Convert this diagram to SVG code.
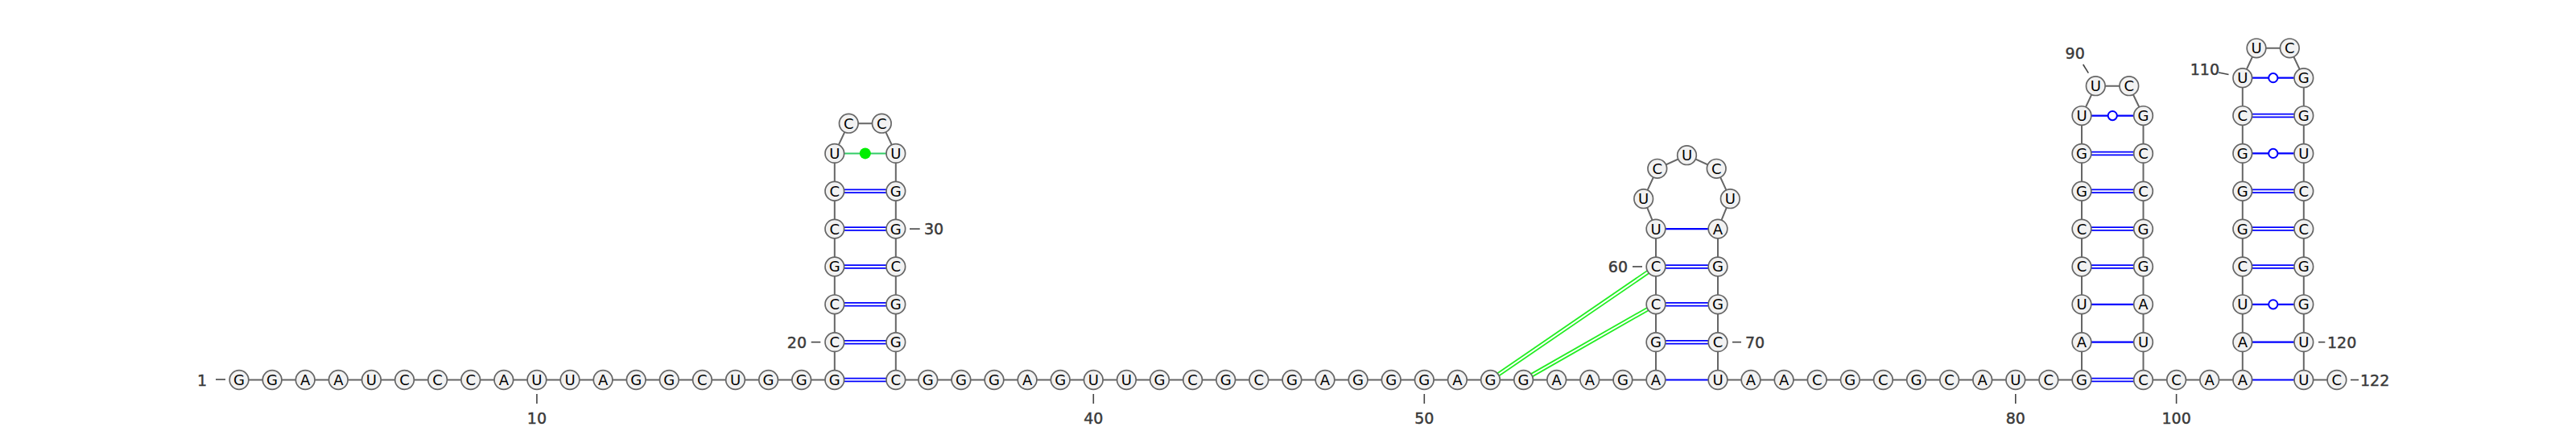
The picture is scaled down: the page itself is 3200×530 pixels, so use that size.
<svg xmlns="http://www.w3.org/2000/svg" width="3200" height="530" viewBox="0 0 3200 530">
<style>
.nt circle{fill:#f2f2f2;stroke:#666;stroke-width:1.7}
.nt text{font-family:'DejaVu Sans',sans-serif;font-size:18px;text-anchor:middle;fill:#000}
.bb{fill:none;stroke:#666;stroke-width:2}
.p1{stroke:#0000ff;stroke-width:2.2}
.p2{stroke:#0000ff;stroke-width:5.5}
.pw{stroke:#fff;stroke-width:2}
.g2{stroke:#22ee22;stroke-width:5.5}
.wb{fill:#fff;stroke:#0000ff;stroke-width:2}
.lbl{font-family:'DejaVu Sans',sans-serif;font-size:19px;fill:#3a3a3a;stroke:#3a3a3a;stroke-width:0.45}
.tk{stroke:#444;stroke-width:1.6}
</style>
<rect width="3200" height="530" fill="#fff"/>
<g id="connectors">
<polyline class="bb" points="297,471.5 338.1,471.5 379.2,471.5 420.3,471.5 461.4,471.5 502.5,471.5 543.6,471.5 584.7,471.5 625.8,471.5 666.9,471.5 708,471.5 749.1,471.5 790.2,471.5 831.3,471.5 872.4,471.5 913.5,471.5 954.6,471.5 995.7,471.5 1036.8,471.5 1036.8,424.65 1036.8,377.8 1036.8,330.95 1036.8,284.1 1036.8,237.25 1036.8,190.4 1054.3,153.2 1095.3,153.2 1112.8,190.4 1112.8,237.25 1112.8,284.1 1112.8,330.95 1112.8,377.8 1112.8,424.65 1112.8,471.5 1152.8,471.5 1193.9,471.5 1235,471.5 1276.1,471.5 1317.2,471.5 1358.3,471.5 1399.4,471.5 1440.5,471.5 1481.6,471.5 1522.7,471.5 1563.8,471.5 1604.9,471.5 1646,471.5 1687.1,471.5 1728.2,471.5 1769.3,471.5 1810.4,471.5 1851.5,471.5 1892.6,471.5 1933.7,471.5 1974.8,471.5 2015.9,471.5 2057,471.5 2057,424.65 2057,377.8 2057,330.95 2057,284.1 2041.7,246.7 2058.8,209.3 2095.5,192.7 2132.2,209.3 2149.3,246.7 2134,284.1 2134,330.95 2134,377.8 2134,424.65 2134,471.5 2175,471.5 2216.1,471.5 2257.2,471.5 2298.3,471.5 2339.4,471.5 2380.5,471.5 2421.6,471.5 2462.7,471.5 2503.8,471.5 2544.9,471.5 2586,471.5 2586,424.65 2586,377.8 2586,330.95 2586,284.1 2586,237.25 2586,190.4 2586,143.55 2603.3,106.7 2644.8,106.7 2662.5,143.55 2662.5,190.4 2662.5,237.25 2662.5,284.1 2662.5,330.95 2662.5,377.8 2662.5,424.65 2662.5,471.5 2703.6,471.5 2744.7,471.5 2785.8,471.5 2785.8,424.65 2785.8,377.8 2785.8,330.95 2785.8,284.1 2785.8,237.25 2785.8,190.4 2785.8,143.55 2785.8,96.7 2803,59.8 2844.3,59.8 2861.8,96.7 2861.8,143.55 2861.8,190.4 2861.8,237.25 2861.8,284.1 2861.8,330.95 2861.8,377.8 2861.8,424.65 2861.8,471.5 2902.9,471.5"/>
<!-- hairpin 1 pairs -->
<g class="p2"><line x1="1036.8" y1="471.5" x2="1112.8" y2="471.5"/><line x1="1036.8" y1="424.65" x2="1112.8" y2="424.65"/><line x1="1036.8" y1="377.8" x2="1112.8" y2="377.8"/><line x1="1036.8" y1="330.95" x2="1112.8" y2="330.95"/><line x1="1036.8" y1="284.1" x2="1112.8" y2="284.1"/><line x1="1036.8" y1="237.25" x2="1112.8" y2="237.25"/></g>
<g class="pw"><line x1="1036.8" y1="471.5" x2="1112.8" y2="471.5"/><line x1="1036.8" y1="424.65" x2="1112.8" y2="424.65"/><line x1="1036.8" y1="377.8" x2="1112.8" y2="377.8"/><line x1="1036.8" y1="330.95" x2="1112.8" y2="330.95"/><line x1="1036.8" y1="284.1" x2="1112.8" y2="284.1"/><line x1="1036.8" y1="237.25" x2="1112.8" y2="237.25"/></g>
<line x1="1036.8" y1="190.4" x2="1112.8" y2="190.4" stroke="#33cc66" stroke-width="2"/>
<circle cx="1074.8" cy="190.4" r="7" fill="#00ee00"/>
<!-- pseudoknot green -->
<g class="g2"><line x1="1851.5" y1="471.5" x2="2057" y2="330.95"/><line x1="1892.6" y1="471.5" x2="2057" y2="377.8"/></g>
<g class="pw"><line x1="1851.5" y1="471.5" x2="2057" y2="330.95"/><line x1="1892.6" y1="471.5" x2="2057" y2="377.8"/></g>
<!-- hairpin 2 pairs -->
<g class="p1"><line x1="2057" y1="471.5" x2="2134" y2="471.5"/><line x1="2057" y1="284.1" x2="2134" y2="284.1"/></g>
<g class="p2"><line x1="2057" y1="424.65" x2="2134" y2="424.65"/><line x1="2057" y1="377.8" x2="2134" y2="377.8"/><line x1="2057" y1="330.95" x2="2134" y2="330.95"/></g>
<g class="pw"><line x1="2057" y1="424.65" x2="2134" y2="424.65"/><line x1="2057" y1="377.8" x2="2134" y2="377.8"/><line x1="2057" y1="330.95" x2="2134" y2="330.95"/></g>
<!-- hairpin 3 pairs -->
<g class="p1"><line x1="2586" y1="424.65" x2="2662.5" y2="424.65"/><line x1="2586" y1="377.8" x2="2662.5" y2="377.8"/><line x1="2586" y1="143.55" x2="2662.5" y2="143.55"/></g>
<g class="p2"><line x1="2586" y1="471.5" x2="2662.5" y2="471.5"/><line x1="2586" y1="330.95" x2="2662.5" y2="330.95"/><line x1="2586" y1="284.1" x2="2662.5" y2="284.1"/><line x1="2586" y1="237.25" x2="2662.5" y2="237.25"/><line x1="2586" y1="190.4" x2="2662.5" y2="190.4"/></g>
<g class="pw"><line x1="2586" y1="471.5" x2="2662.5" y2="471.5"/><line x1="2586" y1="330.95" x2="2662.5" y2="330.95"/><line x1="2586" y1="284.1" x2="2662.5" y2="284.1"/><line x1="2586" y1="237.25" x2="2662.5" y2="237.25"/><line x1="2586" y1="190.4" x2="2662.5" y2="190.4"/></g>
<circle class="wb" cx="2624.25" cy="143.55" r="5.6"/>
<!-- hairpin 4 pairs -->
<g class="p1"><line x1="2785.8" y1="471.5" x2="2861.8" y2="471.5"/><line x1="2785.8" y1="424.65" x2="2861.8" y2="424.65"/><line x1="2785.8" y1="377.8" x2="2861.8" y2="377.8"/><line x1="2785.8" y1="190.4" x2="2861.8" y2="190.4"/><line x1="2785.8" y1="96.7" x2="2861.8" y2="96.7"/></g>
<g class="p2"><line x1="2785.8" y1="330.95" x2="2861.8" y2="330.95"/><line x1="2785.8" y1="284.1" x2="2861.8" y2="284.1"/><line x1="2785.8" y1="237.25" x2="2861.8" y2="237.25"/><line x1="2785.8" y1="143.55" x2="2861.8" y2="143.55"/></g>
<g class="pw"><line x1="2785.8" y1="330.95" x2="2861.8" y2="330.95"/><line x1="2785.8" y1="284.1" x2="2861.8" y2="284.1"/><line x1="2785.8" y1="237.25" x2="2861.8" y2="237.25"/><line x1="2785.8" y1="143.55" x2="2861.8" y2="143.55"/></g>
<circle class="wb" cx="2823.8" cy="377.8" r="5.6"/>
<circle class="wb" cx="2823.8" cy="190.4" r="5.6"/>
<circle class="wb" cx="2823.8" cy="96.7" r="5.6"/>
</g>
<g id="nodes">
<g id="n1" class="nt"><circle cx="297" cy="471.5" r="11.8"/><text x="297" y="478">G</text></g>
<g id="n2" class="nt"><circle cx="338.1" cy="471.5" r="11.8"/><text x="338.1" y="478">G</text></g>
<g id="n3" class="nt"><circle cx="379.2" cy="471.5" r="11.8"/><text x="379.2" y="478">A</text></g>
<g id="n4" class="nt"><circle cx="420.3" cy="471.5" r="11.8"/><text x="420.3" y="478">A</text></g>
<g id="n5" class="nt"><circle cx="461.4" cy="471.5" r="11.8"/><text x="461.4" y="478">U</text></g>
<g id="n6" class="nt"><circle cx="502.5" cy="471.5" r="11.8"/><text x="502.5" y="478">C</text></g>
<g id="n7" class="nt"><circle cx="543.6" cy="471.5" r="11.8"/><text x="543.6" y="478">C</text></g>
<g id="n8" class="nt"><circle cx="584.7" cy="471.5" r="11.8"/><text x="584.7" y="478">C</text></g>
<g id="n9" class="nt"><circle cx="625.8" cy="471.5" r="11.8"/><text x="625.8" y="478">A</text></g>
<g id="n10" class="nt"><circle cx="666.9" cy="471.5" r="11.8"/><text x="666.9" y="478">U</text></g>
<g id="n11" class="nt"><circle cx="708" cy="471.5" r="11.8"/><text x="708" y="478">U</text></g>
<g id="n12" class="nt"><circle cx="749.1" cy="471.5" r="11.8"/><text x="749.1" y="478">A</text></g>
<g id="n13" class="nt"><circle cx="790.2" cy="471.5" r="11.8"/><text x="790.2" y="478">G</text></g>
<g id="n14" class="nt"><circle cx="831.3" cy="471.5" r="11.8"/><text x="831.3" y="478">G</text></g>
<g id="n15" class="nt"><circle cx="872.4" cy="471.5" r="11.8"/><text x="872.4" y="478">C</text></g>
<g id="n16" class="nt"><circle cx="913.5" cy="471.5" r="11.8"/><text x="913.5" y="478">U</text></g>
<g id="n17" class="nt"><circle cx="954.6" cy="471.5" r="11.8"/><text x="954.6" y="478">G</text></g>
<g id="n18" class="nt"><circle cx="995.7" cy="471.5" r="11.8"/><text x="995.7" y="478">G</text></g>
<g id="n19" class="nt"><circle cx="1036.8" cy="471.5" r="11.8"/><text x="1036.8" y="478">G</text></g>
<g id="n20" class="nt"><circle cx="1036.8" cy="424.65" r="11.8"/><text x="1036.8" y="431.15">C</text></g>
<g id="n21" class="nt"><circle cx="1036.8" cy="377.8" r="11.8"/><text x="1036.8" y="384.3">C</text></g>
<g id="n22" class="nt"><circle cx="1036.8" cy="330.95" r="11.8"/><text x="1036.8" y="337.45">G</text></g>
<g id="n23" class="nt"><circle cx="1036.8" cy="284.1" r="11.8"/><text x="1036.8" y="290.6">C</text></g>
<g id="n24" class="nt"><circle cx="1036.8" cy="237.25" r="11.8"/><text x="1036.8" y="243.75">C</text></g>
<g id="n25" class="nt"><circle cx="1036.8" cy="190.4" r="11.8"/><text x="1036.8" y="196.9">U</text></g>
<g id="n26" class="nt"><circle cx="1054.3" cy="153.2" r="11.8"/><text x="1054.3" y="159.7">C</text></g>
<g id="n27" class="nt"><circle cx="1095.3" cy="153.2" r="11.8"/><text x="1095.3" y="159.7">C</text></g>
<g id="n28" class="nt"><circle cx="1112.8" cy="190.4" r="11.8"/><text x="1112.8" y="196.9">U</text></g>
<g id="n29" class="nt"><circle cx="1112.8" cy="237.25" r="11.8"/><text x="1112.8" y="243.75">G</text></g>
<g id="n30" class="nt"><circle cx="1112.8" cy="284.1" r="11.8"/><text x="1112.8" y="290.6">G</text></g>
<g id="n31" class="nt"><circle cx="1112.8" cy="330.95" r="11.8"/><text x="1112.8" y="337.45">C</text></g>
<g id="n32" class="nt"><circle cx="1112.8" cy="377.8" r="11.8"/><text x="1112.8" y="384.3">G</text></g>
<g id="n33" class="nt"><circle cx="1112.8" cy="424.65" r="11.8"/><text x="1112.8" y="431.15">G</text></g>
<g id="n34" class="nt"><circle cx="1112.8" cy="471.5" r="11.8"/><text x="1112.8" y="478">C</text></g>
<g id="n35" class="nt"><circle cx="1152.8" cy="471.5" r="11.8"/><text x="1152.8" y="478">G</text></g>
<g id="n36" class="nt"><circle cx="1193.9" cy="471.5" r="11.8"/><text x="1193.9" y="478">G</text></g>
<g id="n37" class="nt"><circle cx="1235" cy="471.5" r="11.8"/><text x="1235" y="478">G</text></g>
<g id="n38" class="nt"><circle cx="1276.1" cy="471.5" r="11.8"/><text x="1276.1" y="478">A</text></g>
<g id="n39" class="nt"><circle cx="1317.2" cy="471.5" r="11.8"/><text x="1317.2" y="478">G</text></g>
<g id="n40" class="nt"><circle cx="1358.3" cy="471.5" r="11.8"/><text x="1358.3" y="478">U</text></g>
<g id="n41" class="nt"><circle cx="1399.4" cy="471.5" r="11.8"/><text x="1399.4" y="478">U</text></g>
<g id="n42" class="nt"><circle cx="1440.5" cy="471.5" r="11.8"/><text x="1440.5" y="478">G</text></g>
<g id="n43" class="nt"><circle cx="1481.6" cy="471.5" r="11.8"/><text x="1481.6" y="478">C</text></g>
<g id="n44" class="nt"><circle cx="1522.7" cy="471.5" r="11.8"/><text x="1522.7" y="478">G</text></g>
<g id="n45" class="nt"><circle cx="1563.8" cy="471.5" r="11.8"/><text x="1563.8" y="478">C</text></g>
<g id="n46" class="nt"><circle cx="1604.9" cy="471.5" r="11.8"/><text x="1604.9" y="478">G</text></g>
<g id="n47" class="nt"><circle cx="1646" cy="471.5" r="11.8"/><text x="1646" y="478">A</text></g>
<g id="n48" class="nt"><circle cx="1687.1" cy="471.5" r="11.8"/><text x="1687.1" y="478">G</text></g>
<g id="n49" class="nt"><circle cx="1728.2" cy="471.5" r="11.8"/><text x="1728.2" y="478">G</text></g>
<g id="n50" class="nt"><circle cx="1769.3" cy="471.5" r="11.8"/><text x="1769.3" y="478">G</text></g>
<g id="n51" class="nt"><circle cx="1810.4" cy="471.5" r="11.8"/><text x="1810.4" y="478">A</text></g>
<g id="n52" class="nt"><circle cx="1851.5" cy="471.5" r="11.8"/><text x="1851.5" y="478">G</text></g>
<g id="n53" class="nt"><circle cx="1892.6" cy="471.5" r="11.8"/><text x="1892.6" y="478">G</text></g>
<g id="n54" class="nt"><circle cx="1933.7" cy="471.5" r="11.8"/><text x="1933.7" y="478">A</text></g>
<g id="n55" class="nt"><circle cx="1974.8" cy="471.5" r="11.8"/><text x="1974.8" y="478">A</text></g>
<g id="n56" class="nt"><circle cx="2015.9" cy="471.5" r="11.8"/><text x="2015.9" y="478">G</text></g>
<g id="n57" class="nt"><circle cx="2057" cy="471.5" r="11.8"/><text x="2057" y="478">A</text></g>
<g id="n58" class="nt"><circle cx="2057" cy="424.65" r="11.8"/><text x="2057" y="431.15">G</text></g>
<g id="n59" class="nt"><circle cx="2057" cy="377.8" r="11.8"/><text x="2057" y="384.3">C</text></g>
<g id="n60" class="nt"><circle cx="2057" cy="330.95" r="11.8"/><text x="2057" y="337.45">C</text></g>
<g id="n61" class="nt"><circle cx="2057" cy="284.1" r="11.8"/><text x="2057" y="290.6">U</text></g>
<g id="n62" class="nt"><circle cx="2041.7" cy="246.7" r="11.8"/><text x="2041.7" y="253.2">U</text></g>
<g id="n63" class="nt"><circle cx="2058.8" cy="209.3" r="11.8"/><text x="2058.8" y="215.8">C</text></g>
<g id="n64" class="nt"><circle cx="2095.5" cy="192.7" r="11.8"/><text x="2095.5" y="199.2">U</text></g>
<g id="n65" class="nt"><circle cx="2132.2" cy="209.3" r="11.8"/><text x="2132.2" y="215.8">C</text></g>
<g id="n66" class="nt"><circle cx="2149.3" cy="246.7" r="11.8"/><text x="2149.3" y="253.2">U</text></g>
<g id="n67" class="nt"><circle cx="2134" cy="284.1" r="11.8"/><text x="2134" y="290.6">A</text></g>
<g id="n68" class="nt"><circle cx="2134" cy="330.95" r="11.8"/><text x="2134" y="337.45">G</text></g>
<g id="n69" class="nt"><circle cx="2134" cy="377.8" r="11.8"/><text x="2134" y="384.3">G</text></g>
<g id="n70" class="nt"><circle cx="2134" cy="424.65" r="11.8"/><text x="2134" y="431.15">C</text></g>
<g id="n71" class="nt"><circle cx="2134" cy="471.5" r="11.8"/><text x="2134" y="478">U</text></g>
<g id="n72" class="nt"><circle cx="2175" cy="471.5" r="11.8"/><text x="2175" y="478">A</text></g>
<g id="n73" class="nt"><circle cx="2216.1" cy="471.5" r="11.8"/><text x="2216.1" y="478">A</text></g>
<g id="n74" class="nt"><circle cx="2257.2" cy="471.5" r="11.8"/><text x="2257.2" y="478">C</text></g>
<g id="n75" class="nt"><circle cx="2298.3" cy="471.5" r="11.8"/><text x="2298.3" y="478">G</text></g>
<g id="n76" class="nt"><circle cx="2339.4" cy="471.5" r="11.8"/><text x="2339.4" y="478">C</text></g>
<g id="n77" class="nt"><circle cx="2380.5" cy="471.5" r="11.8"/><text x="2380.5" y="478">G</text></g>
<g id="n78" class="nt"><circle cx="2421.6" cy="471.5" r="11.8"/><text x="2421.6" y="478">C</text></g>
<g id="n79" class="nt"><circle cx="2462.7" cy="471.5" r="11.8"/><text x="2462.7" y="478">A</text></g>
<g id="n80" class="nt"><circle cx="2503.8" cy="471.5" r="11.8"/><text x="2503.8" y="478">U</text></g>
<g id="n81" class="nt"><circle cx="2544.9" cy="471.5" r="11.8"/><text x="2544.9" y="478">C</text></g>
<g id="n82" class="nt"><circle cx="2586" cy="471.5" r="11.8"/><text x="2586" y="478">G</text></g>
<g id="n83" class="nt"><circle cx="2586" cy="424.65" r="11.8"/><text x="2586" y="431.15">A</text></g>
<g id="n84" class="nt"><circle cx="2586" cy="377.8" r="11.8"/><text x="2586" y="384.3">U</text></g>
<g id="n85" class="nt"><circle cx="2586" cy="330.95" r="11.8"/><text x="2586" y="337.45">C</text></g>
<g id="n86" class="nt"><circle cx="2586" cy="284.1" r="11.8"/><text x="2586" y="290.6">C</text></g>
<g id="n87" class="nt"><circle cx="2586" cy="237.25" r="11.8"/><text x="2586" y="243.75">G</text></g>
<g id="n88" class="nt"><circle cx="2586" cy="190.4" r="11.8"/><text x="2586" y="196.9">G</text></g>
<g id="n89" class="nt"><circle cx="2586" cy="143.55" r="11.8"/><text x="2586" y="150.05">U</text></g>
<g id="n90" class="nt"><circle cx="2603.3" cy="106.7" r="11.8"/><text x="2603.3" y="113.2">U</text></g>
<g id="n91" class="nt"><circle cx="2644.8" cy="106.7" r="11.8"/><text x="2644.8" y="113.2">C</text></g>
<g id="n92" class="nt"><circle cx="2662.5" cy="143.55" r="11.8"/><text x="2662.5" y="150.05">G</text></g>
<g id="n93" class="nt"><circle cx="2662.5" cy="190.4" r="11.8"/><text x="2662.5" y="196.9">C</text></g>
<g id="n94" class="nt"><circle cx="2662.5" cy="237.25" r="11.8"/><text x="2662.5" y="243.75">C</text></g>
<g id="n95" class="nt"><circle cx="2662.5" cy="284.1" r="11.8"/><text x="2662.5" y="290.6">G</text></g>
<g id="n96" class="nt"><circle cx="2662.5" cy="330.95" r="11.8"/><text x="2662.5" y="337.45">G</text></g>
<g id="n97" class="nt"><circle cx="2662.5" cy="377.8" r="11.8"/><text x="2662.5" y="384.3">A</text></g>
<g id="n98" class="nt"><circle cx="2662.5" cy="424.65" r="11.8"/><text x="2662.5" y="431.15">U</text></g>
<g id="n99" class="nt"><circle cx="2662.5" cy="471.5" r="11.8"/><text x="2662.5" y="478">C</text></g>
<g id="n100" class="nt"><circle cx="2703.6" cy="471.5" r="11.8"/><text x="2703.6" y="478">C</text></g>
<g id="n101" class="nt"><circle cx="2744.7" cy="471.5" r="11.8"/><text x="2744.7" y="478">A</text></g>
<g id="n102" class="nt"><circle cx="2785.8" cy="471.5" r="11.8"/><text x="2785.8" y="478">A</text></g>
<g id="n103" class="nt"><circle cx="2785.8" cy="424.65" r="11.8"/><text x="2785.8" y="431.15">A</text></g>
<g id="n104" class="nt"><circle cx="2785.8" cy="377.8" r="11.8"/><text x="2785.8" y="384.3">U</text></g>
<g id="n105" class="nt"><circle cx="2785.8" cy="330.95" r="11.8"/><text x="2785.8" y="337.45">C</text></g>
<g id="n106" class="nt"><circle cx="2785.8" cy="284.1" r="11.8"/><text x="2785.8" y="290.6">G</text></g>
<g id="n107" class="nt"><circle cx="2785.8" cy="237.25" r="11.8"/><text x="2785.8" y="243.75">G</text></g>
<g id="n108" class="nt"><circle cx="2785.8" cy="190.4" r="11.8"/><text x="2785.8" y="196.9">G</text></g>
<g id="n109" class="nt"><circle cx="2785.8" cy="143.55" r="11.8"/><text x="2785.8" y="150.05">C</text></g>
<g id="n110" class="nt"><circle cx="2785.8" cy="96.7" r="11.8"/><text x="2785.8" y="103.2">U</text></g>
<g id="n111" class="nt"><circle cx="2803" cy="59.8" r="11.8"/><text x="2803" y="66.3">U</text></g>
<g id="n112" class="nt"><circle cx="2844.3" cy="59.8" r="11.8"/><text x="2844.3" y="66.3">C</text></g>
<g id="n113" class="nt"><circle cx="2861.8" cy="96.7" r="11.8"/><text x="2861.8" y="103.2">G</text></g>
<g id="n114" class="nt"><circle cx="2861.8" cy="143.55" r="11.8"/><text x="2861.8" y="150.05">G</text></g>
<g id="n115" class="nt"><circle cx="2861.8" cy="190.4" r="11.8"/><text x="2861.8" y="196.9">U</text></g>
<g id="n116" class="nt"><circle cx="2861.8" cy="237.25" r="11.8"/><text x="2861.8" y="243.75">C</text></g>
<g id="n117" class="nt"><circle cx="2861.8" cy="284.1" r="11.8"/><text x="2861.8" y="290.6">C</text></g>
<g id="n118" class="nt"><circle cx="2861.8" cy="330.95" r="11.8"/><text x="2861.8" y="337.45">G</text></g>
<g id="n119" class="nt"><circle cx="2861.8" cy="377.8" r="11.8"/><text x="2861.8" y="384.3">G</text></g>
<g id="n120" class="nt"><circle cx="2861.8" cy="424.65" r="11.8"/><text x="2861.8" y="431.15">U</text></g>
<g id="n121" class="nt"><circle cx="2861.8" cy="471.5" r="11.8"/><text x="2861.8" y="478">U</text></g>
<g id="n122" class="nt"><circle cx="2902.9" cy="471.5" r="11.8"/><text x="2902.9" y="478">C</text></g>
</g>
<g id="labels">
<g class="tk">
<line x1="268" y1="471" x2="280" y2="471"/>
<line x1="666.9" y1="489" x2="666.9" y2="501"/>
<line x1="1007.7" y1="424.65" x2="1019.3" y2="424.65"/>
<line x1="1130" y1="284.1" x2="1142.7" y2="284.1"/>
<line x1="1358.3" y1="489" x2="1358.3" y2="501"/>
<line x1="1769.3" y1="489" x2="1769.3" y2="501"/>
<line x1="2028" y1="330.95" x2="2040" y2="330.95"/>
<line x1="2152" y1="424.65" x2="2163" y2="424.65"/>
<line x1="2503.8" y1="489" x2="2503.8" y2="501"/>
<line x1="2587.7" y1="80" x2="2594.3" y2="90.7"/>
<line x1="2703.6" y1="489" x2="2703.6" y2="501"/>
<line x1="2756" y1="90" x2="2768.5" y2="92.5"/>
<line x1="2880" y1="424.65" x2="2888.3" y2="424.65"/>
<line x1="2920" y1="471.5" x2="2930" y2="471.5"/>
</g>
<text class="lbl" x="251" y="478.5" text-anchor="middle">1</text>
<text class="lbl" x="666.9" y="526" text-anchor="middle">10</text>
<text class="lbl" x="1002" y="431.5" text-anchor="end">20</text>
<text class="lbl" x="1148" y="291" text-anchor="start">30</text>
<text class="lbl" x="1358.3" y="526" text-anchor="middle">40</text>
<text class="lbl" x="1769.3" y="526" text-anchor="middle">50</text>
<text class="lbl" x="2022" y="338" text-anchor="end">60</text>
<text class="lbl" x="2168" y="431.5" text-anchor="start">70</text>
<text class="lbl" x="2503.8" y="526" text-anchor="middle">80</text>
<text class="lbl" x="2577.7" y="73.3" text-anchor="middle">90</text>
<text class="lbl" x="2703.6" y="526" text-anchor="middle">100</text>
<text class="lbl" x="2757" y="93.3" text-anchor="end">110</text>
<text class="lbl" x="2891" y="431.5" text-anchor="start">120</text>
<text class="lbl" x="2932" y="478.5" text-anchor="start">122</text>
</g>
</svg>
